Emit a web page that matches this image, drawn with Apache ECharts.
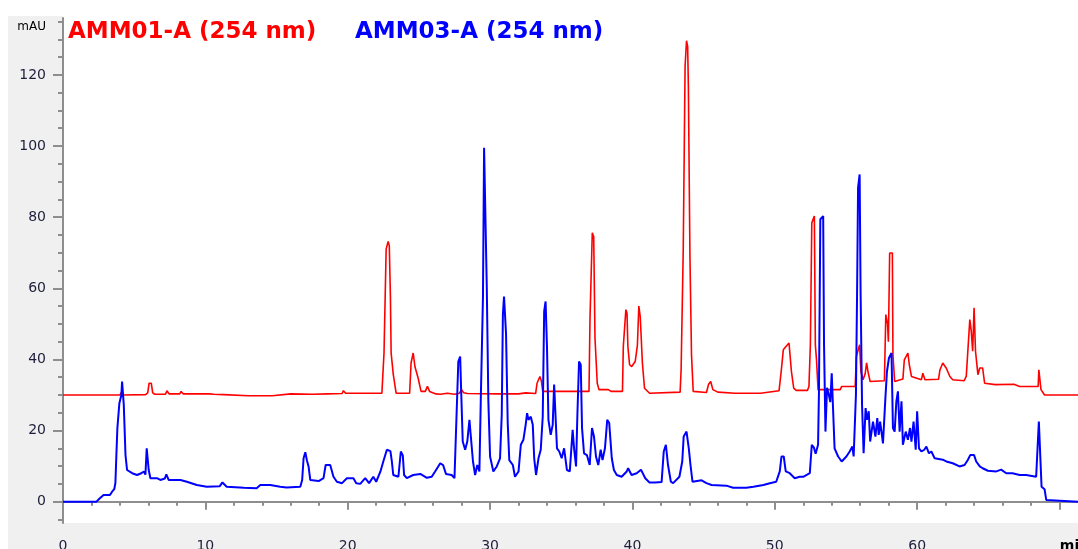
<!DOCTYPE html>
<html>
<head>
<meta charset="utf-8">
<script src="https://cdn.jsdelivr.net/npm/echarts@6/dist/echarts.min.js"></script>
<style>
  html, body { margin: 0; padding: 0; background: #fff; }
  #wrap { position: relative; width: 1078px; height: 549px; background: #fff; overflow: hidden; }
  .gray { position: absolute; background: #f0f0f0; }
  #chart { position: absolute; left: 0; top: 0; width: 1078px; height: 549px; }
</style>
</head>
<body>
<div id="wrap">
  <div class="gray" style="left:8px;top:16px;width:55px;height:533px"></div>
  <div class="gray" style="left:8px;top:523px;width:1070px;height:26px"></div>
  <div id="chart"></div>
</div>
<script>
// AMM01-A (254 nm), red trace: retention time (min) / absorbance (mAU)
var redTime = [0, 4.0, 4.1, 4.25, 5.8, 5.95, 6.05, 6.2, 6.3, 6.45, 7.2, 7.3, 7.45, 8.2, 8.3, 8.45,
  10.3, 10.4, 10.6, 11.3, 11.4, 13.0, 14.7, 14.8, 16.0, 16.1, 17.5, 18.6, 19.6, 19.7, 19.85,
  22.4, 22.55, 22.7, 22.84, 22.92, 23.0, 23.05, 23.2, 23.4, 24.35, 24.45, 24.6, 24.72, 24.85, 24.95,
  25.15, 25.45, 25.6, 25.75, 26.2, 26.5, 27.0, 27.5, 27.85, 28.0, 28.15, 28.4, 30.5, 32.0, 32.5,
  33.2, 33.3, 33.5, 33.6, 33.7, 36.95, 37.02, 37.18, 37.28, 37.37, 37.53, 37.65, 38.3, 38.38, 38.5,
  39.3, 39.36, 39.54, 39.62, 39.68, 39.8, 39.95, 40.2, 40.35, 40.45, 40.55, 40.7, 40.85, 41.2,
  43.35, 43.42, 43.57, 43.7, 43.8, 43.88, 43.93, 44.04, 44.15, 44.27, 45.2, 45.35, 45.5, 45.65, 46.0,
  47.2, 49.0, 50.3, 50.45, 50.6, 50.8, 51.0, 51.17, 51.33, 51.5, 52.3, 52.4, 52.5, 52.6, 52.78,
  52.85, 52.93, 53.04, 54.6, 54.7, 55.65, 55.73, 55.96, 56.05, 56.2, 56.35, 56.45, 56.55, 56.7,
  57.7, 57.8, 57.92, 57.98, 58.07, 58.26, 58.3, 58.42, 59.0, 59.1, 59.35, 59.45, 59.6, 60.3, 60.4,
  60.55, 61.5, 61.6, 61.8, 62.05, 62.3, 62.5, 63.3, 63.45, 63.7, 63.8, 63.9, 64.0, 64.1, 64.27,
  64.4, 64.6, 64.74, 65.5, 66.8, 67.2, 68.5, 68.55, 68.65, 68.7, 68.95, 71.3];
var redAbs = [30.0, 30.0, 30.7, 30.0, 30.1, 30.6, 33.3, 33.3, 30.6, 30.2, 30.2, 31.2, 30.3, 30.3, 31.0, 30.3,
  30.3, 29.8, 30.2, 30.1, 29.7, 29.8, 29.8, 30.3, 30.3, 30.0, 30.2, 30.3, 30.4, 31.2, 30.5,
  30.5, 41.8, 71.0, 73.2, 72.0, 57.7, 41.8, 35.8, 30.5, 30.5, 39.0, 41.8, 38.0, 38.5, 34.7,
  31.0, 31.0, 32.4, 31.0, 30.3, 30.2, 30.5, 30.2, 30.5, 31.5, 30.6, 30.4, 30.3, 30.3, 30.6,
  30.4, 33.3, 35.2, 34.0, 31.0, 31.0, 51.6, 75.6, 74.5, 46.0, 33.3, 31.5, 31.5, 32.0, 31.0,
  31.0, 43.7, 54.0, 53.0, 43.7, 38.5, 38.0, 39.5, 44.0, 55.0, 52.0, 39.0, 31.9, 30.5,
  30.8, 37.1, 70.9, 122.5, 129.6, 128.0, 116.9, 69.0, 41.3, 31.0, 30.7, 33.0, 33.8, 31.5, 30.8,
  30.5, 30.5, 31.2, 36.6, 42.7, 43.7, 44.6, 36.6, 31.9, 31.3, 31.3, 32.4, 44.1, 78.4, 80.3,
  44.0, 40.0, 31.5, 31.5, 32.4, 32.4, 40.8, 44.1, 36.6, 34.3, 36.0, 39.0, 36.5, 33.8,
  34.0, 52.6, 50.0, 45.0, 69.9, 69.9, 41.3, 33.8, 34.5, 39.9, 41.8, 38.5, 35.2, 34.3, 36.1,
  34.3, 34.4, 37.0, 39.0, 37.5, 35.2, 34.3, 34.0, 35.2, 51.2, 48.0, 42.3, 54.5, 42.3, 35.7,
  37.6, 37.6, 33.3, 32.9, 33.0, 32.4, 32.4, 37.1, 37.1, 31.5, 30.0, 30.0];

// AMM03-A (254 nm), blue trace
var blueTime = [0, 2.35, 2.55, 2.85, 3.3, 3.45, 3.6, 3.68, 3.75, 3.82, 3.96, 4.1, 4.15, 4.22, 4.27, 4.39,
  4.5, 4.86, 5.2, 5.5, 5.67, 5.79, 5.88, 5.95, 6.02, 6.14, 6.6, 6.84, 7.15, 7.26, 7.42, 8.25, 8.7,
  9.4, 10.1, 11.0, 11.2, 11.5, 12.7, 13.6, 13.86, 14.56, 15.26, 15.7, 16.67, 16.8, 16.9, 17.02,
  17.14, 17.25, 17.37, 17.96, 18.3, 18.45, 18.77, 19.0, 19.24, 19.6, 19.94, 20.4, 20.6, 20.88,
  21.23, 21.5, 21.8, 22.0, 22.3, 22.5, 22.75, 23.0, 23.1, 23.2, 23.56, 23.73, 23.87, 23.96, 24.15,
  24.6, 25.1, 25.56, 25.9, 26.14, 26.5, 26.7, 26.9, 27.3, 27.5, 27.6, 27.77, 27.9, 27.96, 28.08,
  28.25, 28.4, 28.55, 28.67, 28.8, 28.95, 29.1, 29.25, 29.35, 29.5, 29.58, 29.7, 29.77, 29.88,
  30.0, 30.23, 30.47, 30.7, 30.82, 30.9, 30.98, 31.12, 31.24, 31.35, 31.6, 31.75, 32.0, 32.16,
  32.34, 32.5, 32.6, 32.7, 32.86, 33.0, 33.1, 33.23, 33.4, 33.56, 33.7, 33.8, 33.9, 34.0, 34.1,
  34.26, 34.4, 34.5, 34.6, 34.7, 34.86, 35.03, 35.2, 35.4, 35.6, 35.8, 35.9, 36.04, 36.13, 36.25,
  36.37, 36.46, 36.6, 36.8, 37.0, 37.16, 37.3, 37.44, 37.6, 37.77, 37.9, 38.07, 38.23, 38.37,
  38.55, 38.7, 38.9, 39.24, 39.6, 39.7, 39.94, 40.3, 40.6, 40.9, 41.2, 41.6, 42.05, 42.2, 42.35,
  42.5, 42.7, 42.86, 43.3, 43.5, 43.6, 43.8, 43.96, 44.08, 44.22, 44.86, 45.2, 45.56, 46.6, 47.07,
  48.0, 48.5, 49.2, 49.65, 50.1, 50.35, 50.47, 50.63, 50.77, 51.05, 51.4, 51.75, 52.0, 52.46,
  52.6, 52.75, 52.87, 53.04, 53.1, 53.2, 53.4, 53.46, 53.56, 53.67, 53.8, 53.9, 54.0, 54.1, 54.2,
  54.45, 54.7, 55.03, 55.26, 55.45, 55.54, 55.7, 55.78, 55.85, 55.96, 56.03, 56.13, 56.24, 56.38,
  56.47, 56.6, 56.7, 56.9, 57.07, 57.2, 57.3, 57.4, 57.6, 57.77, 57.88, 58.02, 58.2, 58.3, 58.42,
  58.54, 58.65, 58.77, 58.9, 59.0, 59.2, 59.35, 59.5, 59.6, 59.75, 59.9, 60.0, 60.13, 60.3, 60.5,
  60.65, 60.83, 61.0, 61.23, 61.8, 62.05, 62.5, 62.98, 63.33, 63.56, 63.73, 64.0, 64.15, 64.4,
  64.6, 64.97, 65.56, 65.9, 66.26, 66.7, 67.2, 67.66, 68.36, 68.5, 68.55, 68.65, 68.74, 68.95,
  69.07, 69.15, 71.3];
var blueAbs = [0, 0, 0.8, 1.9, 1.9, 2.8, 3.5, 5.2, 13.2, 20.7, 27.7, 30.0, 33.8, 33.8, 27.2, 13.1,
  8.9, 8.0, 7.5, 8.0, 8.5, 7.6, 15.0, 12.0, 8.9, 6.6, 6.6, 6.1, 6.5, 7.7, 6.1, 6.1, 5.6,
  4.7, 4.2, 4.3, 5.4, 4.2, 3.9, 3.8, 4.7, 4.7, 4.2, 4.0, 4.2, 6.1, 12.2, 13.9,
  11.5, 9.9, 6.1, 5.8, 6.6, 10.3, 10.3, 7.0, 5.6, 5.2, 6.6, 6.6, 5.2, 5.0,
  6.6, 5.2, 7.0, 5.6, 8.5, 11.3, 14.6, 14.2, 11.3, 7.5, 7.0, 14.1, 13.0, 7.5, 6.6,
  7.5, 7.8, 6.7, 7.0, 8.5, 10.8, 10.3, 7.8, 7.5, 6.6, 18.8, 39.4, 40.8, 32.4, 16.9,
  14.6, 16.9, 23.0, 22.6, 11.3, 7.5, 10.3, 8.5, 29.1, 57.3, 99.5, 99.0, 60.1, 28.2,
  12.7, 8.5, 9.9, 12.2, 24.4, 52.6, 57.7, 47.4, 22.1, 11.7, 10.3, 7.0, 8.5, 16.0,
  17.4, 21.6, 24.9, 23.0, 23.9, 21.6, 12.2, 7.5, 12.2, 14.6, 23.9, 53.5, 56.3, 43.2, 23.0,
  18.8, 21.6, 32.9, 32.4, 15.0, 14.1, 12.2, 15.0, 8.9, 8.5, 20.2, 15.0, 9.9, 23.9, 39.4,
  38.5, 20.7, 13.6, 13.1, 10.3, 20.7, 18.3, 12.7, 10.3, 14.6, 11.7, 15.0, 23.0, 22.1,
  12.2, 8.9, 7.5, 7.0, 8.5, 9.4, 7.5, 8.0, 9.0, 6.6, 5.4, 5.4, 5.5, 14.1, 16.0,
  10.3, 5.6, 5.2, 7.0, 11.3, 18.3, 19.7, 15.0, 10.3, 5.6, 6.0, 5.2, 4.7, 4.5, 3.9,
  3.9, 4.2, 4.7, 5.2, 5.6, 8.5, 12.7, 12.7, 8.5, 8.0, 6.6, 7.0, 7.0, 8.0,
  16.0, 15.2, 13.5, 16.0, 30.0, 79.4, 80.3, 44.1, 19.7, 32.0, 30.0, 28.0, 36.1, 25.4, 15.0,
  12.7, 11.3, 12.7, 14.1, 15.5, 12.7, 30.0, 58.2, 88.3, 92.0, 58.2, 27.2, 13.6, 26.3,
  23.0, 25.4, 16.9, 22.5, 18.3, 23.5, 18.8, 22.5, 16.4, 29.1, 36.6, 40.4, 41.8, 20.7, 19.7,
  28.2, 31.0, 19.7, 28.2, 16.0, 19.7, 17.4, 20.7, 16.9, 22.5, 14.6, 25.4, 15.0, 14.1, 14.6,
  15.5, 13.6, 14.1, 12.2, 11.8, 11.3, 10.8, 9.9, 10.3, 11.7, 13.1, 13.1, 11.3, 9.9,
  9.4, 8.7, 8.5, 9.0, 8.0, 8.0, 7.5, 7.5, 7.0, 7.0, 22.5, 22.0, 4.2, 3.5,
  0.5, 0, 0];

var xMajor = [0, 10, 20, 30, 40, 50, 60, 70];
var xMinor = [0, 2, 4, 6, 8, 10, 12, 14, 16, 18, 20, 22, 24, 26, 28, 30, 32, 34, 36, 38, 40,
  42, 44, 46, 48, 50, 52, 54, 56, 58, 60, 62, 64, 66, 68, 70];
var yMajor = [0, 20, 40, 60, 80, 100, 120];
var yMinor = [-5, 0, 5, 10, 15, 20, 25, 30, 35, 40, 45, 50, 55, 60, 65, 70, 75, 80, 85, 90,
  95, 100, 105, 110, 115, 120, 125, 130, 135];

function pairs(t, v) {
  return t.map(function (x, i) { return [x, v[i]]; });
}

var axisGray = '#8e8e8e';
var labelColor = '#1e1e3c';
var font = '"DejaVu Sans", Verdana, sans-serif';

var chart = echarts.init(document.getElementById('chart'));
var option = {
  animation: false,
  grid: { left: 63, right: 0, top: 18, bottom: 26, outerBoundsMode: 'none', containLabel: false },
  graphic: [
    { type: 'text', left: 68, top: 21,
      style: { text: 'AMM01-A (254 nm)', fill: '#ff0000', font: 'bold 23px "DejaVu Sans"' } },
    { type: 'text', left: 355, top: 21,
      style: { text: 'AMM03-A (254 nm)', fill: '#0000ff', font: 'bold 23px "DejaVu Sans"' } }
  ],
  xAxis: [
    {
      type: 'value', min: 0, max: 71.3, position: 'bottom',
      axisLine: { lineStyle: { color: axisGray, width: 2 } },
      axisTick: { customValues: xMajor, length: 8, lineStyle: { color: axisGray, width: 2 } },
      axisLabel: {
        customValues: xMajor, margin: 16, color: labelColor, fontSize: 14, fontFamily: font,
        formatter: function (v) { return v === 70 ? '{u|min}' : String(v); },
        rich: { u: { padding: [0, 0, 0, 30], color: '#000', fontSize: 14, fontWeight: 'bold', fontFamily: font } }
      },
      splitLine: { show: false }
    },
    {
      type: 'value', min: 0, max: 71.3, position: 'bottom', offset: 0,
      axisLine: { show: false },
      axisTick: { customValues: xMinor, length: 4, lineStyle: { color: axisGray, width: 2 } },
      axisLabel: { show: false },
      splitLine: { show: false }
    }
  ],
  yAxis: [
    {
      type: 'value', min: -6, max: 136, position: 'left',
      name: 'mAU', nameLocation: 'end', nameGap: -9,
      nameTextStyle: { align: 'right', verticalAlign: 'middle', padding: [0, 17, 0, 0],
        color: '#000', fontSize: 12, fontFamily: font },
      axisLine: { show: true, lineStyle: { color: axisGray, width: 2 } },
      axisTick: { show: true, customValues: yMajor, length: 10, lineStyle: { color: axisGray, width: 2 } },
      axisLabel: { customValues: yMajor, margin: 17, color: labelColor, fontSize: 14, fontFamily: font },
      splitLine: { show: false }
    },
    {
      type: 'value', min: -6, max: 136, position: 'left', offset: 0,
      axisLine: { show: false },
      axisTick: { show: true, customValues: yMinor, length: 5, lineStyle: { color: axisGray, width: 2 } },
      axisLabel: { show: false },
      splitLine: { show: false }
    }
  ],
  series: [
    {
      name: 'AMM01-A (254 nm)', type: 'line', data: pairs(redTime, redAbs),
      showSymbol: false, symbol: 'none',
      lineStyle: { color: '#ff0000', width: 1.6 }, z: 2
    },
    {
      name: 'AMM03-A (254 nm)', type: 'line', data: pairs(blueTime, blueAbs),
      showSymbol: false, symbol: 'none',
      lineStyle: { color: '#0000ff', width: 2 }, z: 3
    }
  ]
};
chart.setOption(option);
</script>
</body>
</html>
